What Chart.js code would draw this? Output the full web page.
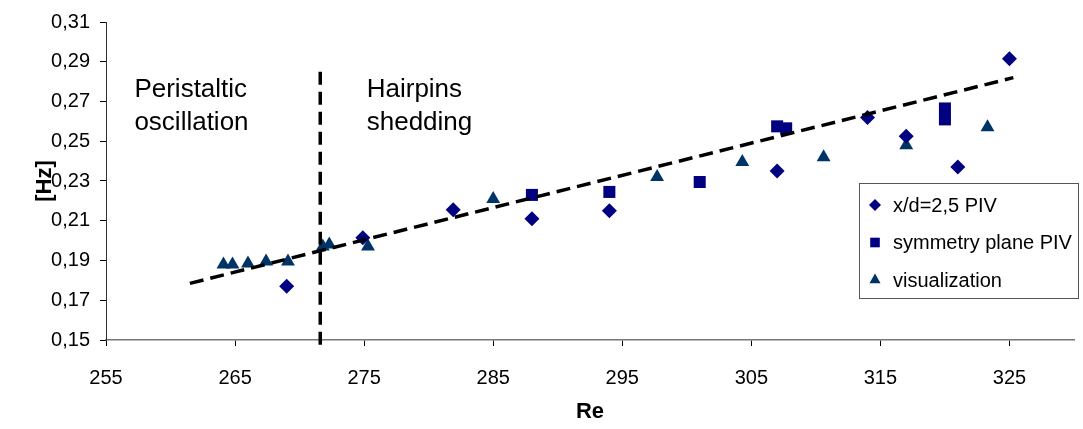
<!DOCTYPE html>
<html>
<head>
<meta charset="utf-8">
<script src="https://cdn.jsdelivr.net/npm/chart.js@4/dist/chart.umd.min.js"></script>
<style>
  html, body { margin: 0; padding: 0; background: #fff; }
  #wrap { width: 1083px; height: 429px; }
</style>
</head>
<body>
<div id="wrap"><canvas id="chart" width="1083" height="429"></canvas></div>
<script>
/* ===== data ===== */
const pivRe = [269, 274.9, 281.9, 288, 294, 307, 314, 317, 321, 325];
const pivHz = [0.177, 0.2015, 0.2155, 0.211, 0.215, 0.235, 0.262, 0.2525, 0.237, 0.2915];

const symRe = [288, 294, 301, 307, 307.7, 320, 320];
const symHz = [0.223, 0.2245, 0.2295, 0.2575, 0.2565, 0.2665, 0.261];

const visRe = [264.1, 264.8, 266, 267.4, 269.1, 271.8, 272.3, 275.3, 285, 297.7, 304.3, 310.6, 317, 323.3];
const visHz = [0.188, 0.188, 0.1885, 0.1895, 0.1895, 0.197, 0.198, 0.197, 0.221, 0.232, 0.2395, 0.242, 0.248, 0.257];

const trendRe = [261.5, 325.3];
const trendHz = [0.1785, 0.282];

const splitRe = [271.6, 271.6];
const splitHz = [0.285, 0.147];

const xTicks = [255, 265, 275, 285, 295, 305, 315, 325];
const yTicks = [0.15, 0.17, 0.19, 0.21, 0.23, 0.25, 0.27, 0.29, 0.31];

const seriesNames = ["x/d=2,5 PIV", "symmetry plane PIV", "visualization"];
const regionNotes = [
  { lines: ["Peristaltic", "oscillation"], re: 257.2, hz: 0.2725 },
  { lines: ["Hairpins", "shedding"], re: 275.2, hz: 0.2725 }
];

const pts = (xs, ys) => xs.map((x, i) => ({ x, y: ys[i] }));
const FONT = "'Liberation Sans', Arial, sans-serif";

/* ===== text notes ===== */
const notesPlugin = {
  id: "notes",
  afterDatasetsDraw(chart) {
    const { ctx, scales: { x, y } } = chart;
    ctx.save();
    ctx.fillStyle = "#000";
    ctx.font = "26px " + FONT;
    ctx.textBaseline = "alphabetic";
    regionNotes.forEach(n => {
      const px = x.getPixelForValue(n.re);
      const py = y.getPixelForValue(n.hz);
      n.lines.forEach((t, i) => ctx.fillText(t, px, py + i * 33));
    });
    ctx.restore();
  }
};

/* ===== boxed legend ===== */
const legendPlugin = {
  id: "boxLegend",
  afterDraw(chart) {
    const { ctx } = chart;
    const left = 859, top = 183, w = 219, h = 115;
    ctx.save();
    ctx.fillStyle = "#fff";
    ctx.fillRect(left, top, w, h);
    ctx.strokeStyle = "#555";
    ctx.lineWidth = 1;
    ctx.strokeRect(left + 0.5, top + 0.5, w, h);
    ctx.font = "20px " + FONT;
    ctx.textBaseline = "middle";
    chart.data.datasets.slice(0, 3).forEach((ds, i) => {
      const cy = top + 22 + i * 37.5;
      ctx.fillStyle = ds.backgroundColor;
      ctx.strokeStyle = ds.borderColor;
      Chart.helpers.drawPoint(ctx, {
        pointStyle: ds.pointStyle, radius: ds.pointRadius * 0.8, borderWidth: 0
      }, left + 16, cy);
      ctx.fillStyle = "#000";
      ctx.fillText(seriesNames[i], left + 34, cy + 1);
    });
    ctx.restore();
  }
};

new Chart(document.getElementById("chart"), {
  type: "scatter",
  data: {
    datasets: [
      {
        label: seriesNames[0],
        data: pts(pivRe, pivHz),
        pointStyle: "rectRot",
        pointRadius: 7.5,
        backgroundColor: "#000080",
        borderColor: "#000080",
        borderWidth: 0,
        order: 1
      },
      {
        label: seriesNames[1],
        data: pts(symRe, symHz),
        pointStyle: "rect",
        pointRadius: 8.5,
        backgroundColor: "#000080",
        borderColor: "#000080",
        borderWidth: 0,
        order: 2
      },
      {
        label: seriesNames[2],
        data: pts(visRe, visHz),
        pointStyle: "triangle",
        pointRadius: 8,
        backgroundColor: "#003366",
        borderColor: "#003366",
        borderWidth: 0,
        order: 3
      },
      {
        type: "line",
        data: pts(trendRe, trendHz),
        borderColor: "#000",
        borderWidth: 3.5,
        borderDash: [14, 7],
        pointRadius: 0,
        fill: false,
        order: 0
      },
      {
        type: "line",
        data: pts(splitRe, splitHz),
        borderColor: "#000",
        borderWidth: 3.5,
        borderDash: [13, 7],
        pointRadius: 0,
        fill: false,
        clip: false,
        order: 0
      }
    ]
  },
  options: {
    responsive: false,
    animation: false,
    layout: { padding: { top: 20, right: 9, left: 0, bottom: 0 } },
    plugins: {
      legend: { display: false },
      tooltip: { enabled: false }
    },
    scales: {
      x: {
        type: "linear",
        min: 255,
        max: 330,
        afterBuildTicks: s => { s.ticks = xTicks.map(v => ({ value: v })); },
        afterFit: s => { s.height = 89; },
        grid: { drawOnChartArea: false, tickLength: 6, color: "#000" },
        border: { color: "#777", width: 1.5 },
        ticks: {
          color: "#000",
          padding: 20,
          maxRotation: 0,
          font: { family: FONT, size: 20 }
        },
        title: {
          display: true,
          text: "Re",
          color: "#000",
          font: { family: FONT, size: 22, weight: "bold" },
          padding: { top: 0, bottom: 4 }
        }
      },
      y: {
        min: 0.15,
        max: 0.31,
        afterBuildTicks: s => { s.ticks = yTicks.map(v => ({ value: v })); },
        afterFit: s => { s.width = 106; },
        grid: { drawOnChartArea: false, tickLength: 6, color: "#000" },
        border: { color: "#333", width: 1 },
        ticks: {
          color: "#000",
          padding: 10,
          font: { family: FONT, size: 20 },
          callback: v => v.toFixed(2).replace(".", ",")
        },
        title: {
          display: true,
          text: "[Hz]",
          color: "#000",
          font: { family: FONT, size: 22, weight: "bold" },
          padding: { top: 32, bottom: 0 }
        }
      }
    }
  },
  plugins: [notesPlugin, legendPlugin]
});
</script>
</body>
</html>
